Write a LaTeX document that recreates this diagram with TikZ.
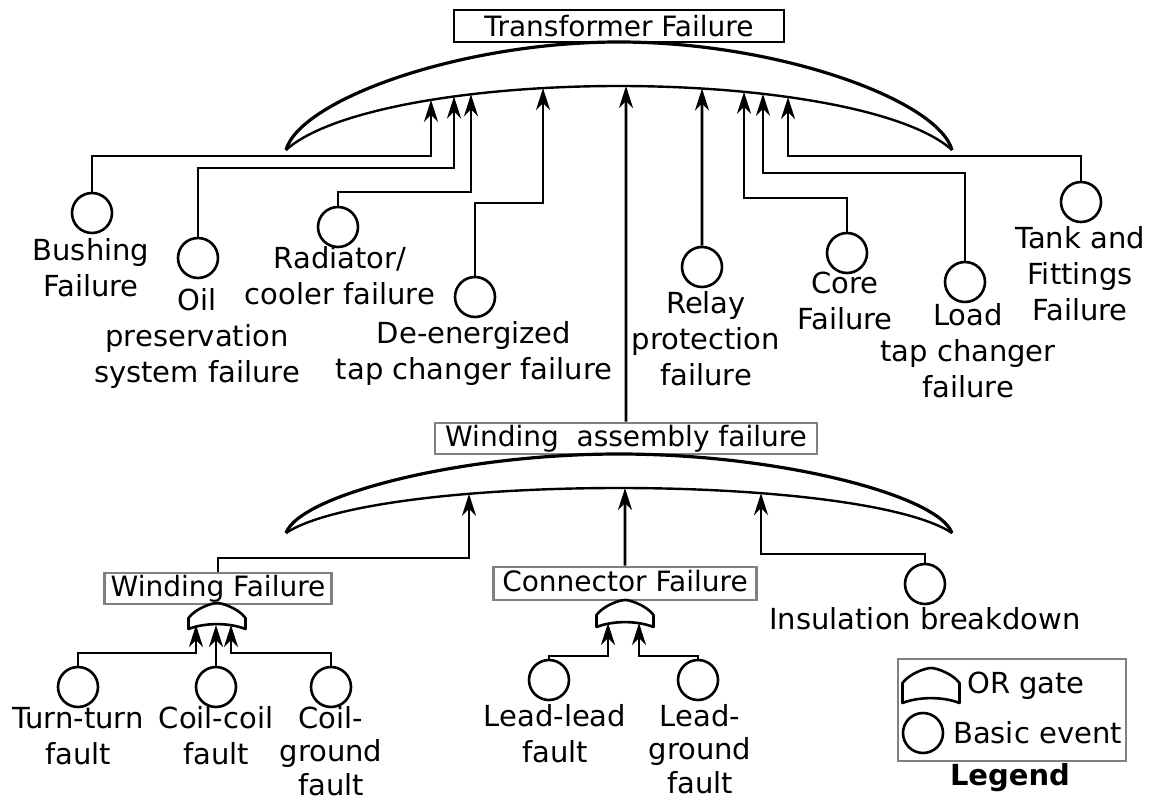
\documentclass[tikz,border=0pt]{standalone}
\usepackage{fontspec}
\setmainfont{DejaVu Sans}
\usetikzlibrary{arrows.meta,intersections}
\definecolor{boxgray}{RGB}{128,128,128}
\newcommand\lblfont{\fontsize{29}{36}\selectfont}
\newcommand\boxfont{\fontsize{28}{34}\selectfont}
\newcommand\tightfont{\fontsize{29}{33.5}\selectfont}
\newcommand\tipat[3]{%
  \path[name path=vtmp] (#2,0) -- (#2,800);
  \path[name intersections={of=#1 and vtmp, by=#3}];
}
\tikzset{
  conn/.style={line width=2.9pt, -{Stealth[length=22pt,width=14pt,inset=7pt]}},
  event/.style={circle, draw, line width=2.6pt, minimum size=40pt, inner sep=0pt},
  lbl/.style={font=\lblfont, align=center, inner sep=0pt, anchor=north},
  topbox/.style={draw, line width=2.4pt, minimum width=330pt, minimum height=32pt, inner sep=0pt, font=\boxfont, text height=21pt, text depth=0pt},
  graybox/.style={draw=boxgray, line width=2.8pt, inner sep=0pt, font=\boxfont, text height=21pt, text depth=6pt},
  outerarc/.style={line width=3.2pt},
  innerarc/.style={line width=2.4pt},
  pics/orgate/.style={code={
    \draw[line width=2.6pt, line join=round] (-28.5,15) .. controls (-22,6) and (-6,0) .. (0,0) .. controls (6,0) and (22,6) .. (28.5,15) -- (28.5,#1) .. controls (12,#1-6.5) and (-12,#1-6.5) .. (-28.5,#1) -- cycle;
    \coordinate (-b) at (0,#1-4);
  }},
}
\begin{document}
\begin{tikzpicture}[x=1pt,y=-1pt]
\useasboundingbox (0,0) rectangle (1151,802);

% ---------- top event and gate ----------
\node[topbox] (top) at (619,26) {Transformer Failure};
\draw[outerarc] (286,150) .. controls (300,100) and (460,42) .. (619,42) .. controls (778,42) and (938,100) .. (952,150);
\draw[innerarc, name path=topin] (286,150) .. controls (330,110) and (470,86) .. (619,86) .. controls (768,86) and (908,110) .. (952,150);
\tipat{topin}{431}{t1}
\tipat{topin}{454}{t2}
\tipat{topin}{471}{t3}
\tipat{topin}{543}{t4}
\tipat{topin}{626}{t0}
\tipat{topin}{702}{t5}
\tipat{topin}{744}{t6}
\tipat{topin}{763}{t7}
\tipat{topin}{788}{t8}

% ---------- basic events (first level) ----------
\node[event] (bush) at (92,213) {};
\node[lbl] (bushL) at (91,234.8) {\strut Bushing\\Failure};
\node[event] (oil) at (198,258) {};
\node[lbl] (oilL) at (197,284.8) {\strut Oil\\preservation\\system failure};
\node[event] (rad) at (338,227) {};
\node[lbl] (radL) at (340,242.8) {\strut Radiator/\\cooler failure};
\node[event] (deen) at (475,297) {};
\node[lbl] (deenL) at (474,317.8) {\strut De-energized\\tap changer failure};
\node[event] (relay) at (702,267) {};
\node[lbl] (relayL) at (706,287.8) {\strut Relay\\protection\\failure};
\node[event] (core) at (847,253) {};
\node[lbl] (coreL) at (845,267.8) {\strut Core\\Failure};
\node[event] (load) at (965,282) {};
\node[lbl] (loadL) at (968,299.8) {\strut Load\\tap changer\\failure};
\node[event] (tank) at (1081,202) {};
\node[lbl] (tankL) at (1080,222.8) {\strut Tank and\\Fittings\\Failure};

\draw[conn] (bush.north) |- (t1 |- 0,156) -- (t1);
\draw[conn] (oil.north) |- (t2 |- 0,168) -- (t2);
\draw[conn] (rad.north) |- (t3 |- 0,192) -- (t3);
\draw[conn] (deen.north) |- (t4 |- 0,203) -- (t4);
\draw[conn] (relay.north) -- (t5);
\draw[conn] (core.north) |- (t6 |- 0,198) -- (t6);
\draw[conn] (load.north) |- (t7 |- 0,173) -- (t7);
\draw[conn] (tank.north) |- (t8 |- 0,156) -- (t8);

% ---------- winding assembly ----------
\node[graybox, minimum width=382pt, minimum height=31pt] (wa) at (626,438.5) {Winding\ \ assembly failure};
\draw[conn] (wa.north) -- (t0);
\draw[outerarc] (286,533) .. controls (300,495) and (460,454) .. (619,454) .. controls (778,454) and (938,495) .. (952,533);
\draw[innerarc, name path=botin] (286,533) .. controls (330,504) and (470,488) .. (619,488) .. controls (768,488) and (908,504) .. (952,533);
\tipat{botin}{469}{u1}
\tipat{botin}{625}{u2}
\tipat{botin}{761}{u3}

\node[graybox, minimum width=227pt, minimum height=31pt] (wf) at (218,588.5) {Winding Failure};
\node[graybox, minimum width=263pt, minimum height=33pt] (cf) at (625,583.5) {Connector Failure};
\node[event] (ins) at (925,584) {};
\node[lbl] (insL) at (925,603.8) {\strut Insulation breakdown};

\draw[conn] (wf.north) |- (u1 |- 0,558) -- (u1);
\draw[conn] (cf.north) -- (u2);
\draw[conn] (ins.north) |- (u3 |- 0,554) -- (u3);

% ---------- winding failure gate ----------
\pic (g1) at (217,603) {orgate=26};
\node[event] (tt) at (78,687) {};
\node[lbl] (ttL) at (78,702.8) {\strut Turn-turn\\fault};
\node[event] (cc) at (216,687) {};
\node[lbl] (ccL) at (216,702.8) {\strut Coil-coil\\fault};
\node[event] (cg) at (331,687) {};
\node[lbl, font=\tightfont] (cgL) at (331,704.5) {\strut Coil-\\ground\\fault};
\draw[conn] (tt.north) |- (196,653) -- (196,0 |- g1-b);
\draw[conn] (cc.north) -- (216,0 |- g1-b);
\draw[conn] (cg.north) |- (231,653) -- (231,0 |- g1-b);

% ---------- connector failure gate ----------
\pic (g2) at (625,600) {orgate=27};
\node[event] (ll) at (549,680) {};
\node[lbl] (llL) at (555,700.8) {\strut Lead-lead\\fault};
\node[event] (lgr) at (698,680) {};
\node[lbl, font=\tightfont] (lgrL) at (700,702.5) {\strut Lead-\\ground\\fault};
\draw[conn] (ll.north) |- (608,656) -- (608,0 |- g2-b);
\draw[conn] (lgr.north) |- (639,656) -- (639,0 |- g2-b);

% ---------- legend ----------
\draw[draw=boxgray, line width=2.8pt] (898,659) rectangle (1126,761);
\pic (lgate) at (931,668) {orgate=35};
\node[font=\lblfont, anchor=base west, inner sep=0pt] (lgateT) at (967,693) {OR gate};
\node[event] (lev) at (923,733) {};
\node[font=\lblfont, anchor=base west, inner sep=0pt] (levT) at (953,743) {Basic event};
\node[font=\lblfont\bfseries, anchor=base, inner sep=0pt] (legT) at (1010,785) {Legend};
\end{tikzpicture}
\end{document}
